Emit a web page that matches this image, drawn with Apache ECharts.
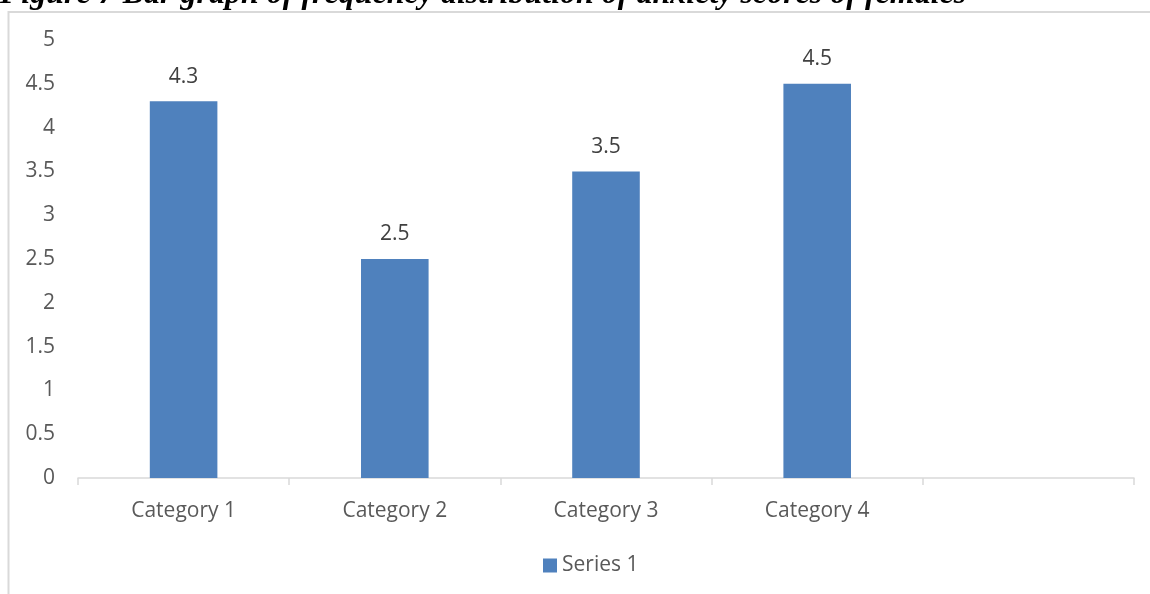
<!DOCTYPE html>
<html>
<head>
<meta charset="utf-8">
<script src="https://cdn.jsdelivr.net/npm/echarts@6/dist/echarts.min.js"></script>
<style>
html,body{margin:0;padding:0;background:#fff;}
#chart{width:1150px;height:594px;}
</style>
</head>
<body>
<div id="chart"></div>
<script>
const titleText = "Figure 7 Bar graph of frequency distribution of anxiety scores of females";
const categories = ["Category 1", "Category 2", "Category 3", "Category 4", ""];
const values = [4.3, 2.5, 3.5, 4.5, null];
const seriesName = "Series 1";

const chart = echarts.init(document.getElementById('chart'));
const font = "'Open Sans', sans-serif";
chart.setOption({
  animation: false,
  backgroundColor: '#ffffff',
  graphic: [
    { type: 'rect', shape: { x: 8.5, y: 12, width: 1200, height: 700 },
      style: { fill: 'none', stroke: '#d9d9d9', lineWidth: 2 }, z: 0 },
    { type: 'text', left: 0, top: -21,
      style: { text: titleText, font: "italic bold 32px 'Liberation Serif', serif", fill: '#000' }, z: 10 }
  ],
  grid: { left: 78, right: 16, top: 40, bottom: 116, containLabel: false },
  legend: {
    top: 550, left: 538, itemWidth: 14, itemHeight: 14, itemGap: 8,
    textStyle: { color: '#595959', fontSize: 21, fontFamily: font },
    data: [{ name: seriesName, icon: 'rect' }]
  },
  xAxis: {
    type: 'category', data: categories,
    axisLine: { lineStyle: { color: '#d9d9d9', width: 1.5 } },
    axisTick: { show: true, length: 7, lineStyle: { color: '#d9d9d9', width: 1.5 } },
    axisLabel: { color: '#595959', fontSize: 21, fontFamily: font, margin: 23 }
  },
  yAxis: {
    type: 'value', min: 0, max: 5, interval: 0.5,
    axisLine: { show: false }, axisTick: { show: false },
    splitLine: { show: false },
    axisLabel: { color: '#595959', fontSize: 21, fontFamily: font, margin: 23 }
  },
  series: [{
    name: seriesName, type: 'bar', data: values, barWidth: '32%',
    itemStyle: { color: '#4f81bd' },
    label: { show: true, position: 'top', distance: 14, color: '#404040', fontSize: 21, fontFamily: font }
  }]
});
</script>
</body>
</html>
